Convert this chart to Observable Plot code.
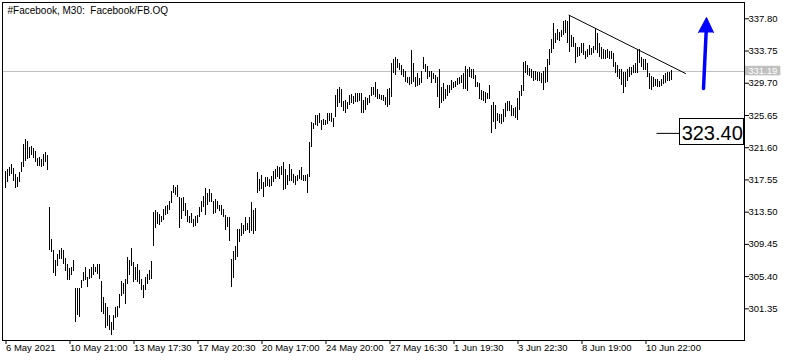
<!DOCTYPE html>
<html><head><meta charset="utf-8">
<script src="https://cdn.jsdelivr.net/npm/d3@7"></script>
<script src="https://cdn.jsdelivr.net/npm/@observablehq/plot@0.6"></script>
<style>body{margin:0;background:#fff} svg{display:block}</style>
</head><body><div id="chart"></div>
<script>
const title = "#Facebook, M30:  Facebook/FB.OQ";
const high = [
318.61,318.82,319.11,319.53,319.03,318.27,317.86,318.52,319.70,321.97,
322.63,322.38,321.63,321.79,321.46,321.12,320.21,320.37,320.12,320.78,
320.96,320.62,314.12,310.06,308.68,307.39,308.22,308.64,308.90,308.72,
307.64,306.96,306.46,306.54,307.39,303.94,303.94,303.87,304.87,305.88,
306.54,305.29,306.29,306.54,306.96,306.54,306.96,306.96,304.78,302.77,
302.02,301.52,300.51,299.67,300.51,301.52,301.60,303.11,304.78,304.53,
305.04,307.80,307.46,308.90,307.13,306.54,306.88,306.20,305.04,304.28,
305.29,305.70,306.13,307.30,313.42,313.67,313.42,313.17,312.99,313.83,
314.17,314.34,314.84,316.13,316.81,316.56,316.81,315.38,315.22,315.38,
314.63,313.71,312.96,313.29,312.62,312.96,313.04,314.12,314.88,315.47,
316.47,315.81,316.31,315.88,314.88,315.05,314.88,314.30,314.30,313.87,
313.04,312.79,312.79,307.59,308.52,309.18,311.36,311.28,312.04,311.79,
312.79,312.11,312.87,314.71,313.71,313.96,318.48,317.57,318.15,317.23,
317.89,317.82,317.64,317.98,318.65,318.90,319.24,319.07,319.24,319.74,
318.82,318.15,319.49,318.82,318.23,317.98,318.07,318.74,319.07,318.15,
318.07,318.23,322.26,324.77,324.68,325.69,325.69,325.86,325.02,325.11,
325.02,325.86,325.94,325.86,325.27,328.13,328.96,329.21,328.96,327.45,
327.53,327.28,328.13,328.29,328.04,328.38,328.38,328.45,328.38,327.53,
327.87,327.78,328.20,329.21,329.21,329.80,328.88,328.29,328.20,328.20,
327.95,328.88,329.04,332.15,332.65,332.90,332.65,332.22,331.97,331.47,
331.22,330.39,330.39,333.82,332.22,330.46,330.89,330.30,331.22,332.98,
332.06,331.81,331.22,331.14,330.97,330.72,330.46,331.39,329.21,329.63,
328.88,329.38,329.46,330.05,329.80,329.96,330.30,330.46,330.72,330.89,
331.81,331.39,331.72,331.47,331.39,330.72,329.80,329.71,328.79,328.71,
328.54,328.45,329.46,326.87,327.28,326.94,325.94,325.78,325.78,326.44,
327.12,327.37,327.37,326.91,326.53,326.65,327.78,328.66,329.42,332.31,
332.40,331.90,331.56,331.39,331.22,331.14,331.06,331.06,330.89,331.14,
331.72,332.73,333.98,335.16,337.18,335.92,336.42,336.08,336.33,337.42,
337.59,337.42,338.26,335.74,335.49,334.74,334.23,334.16,334.74,334.66,
333.73,333.91,334.48,334.07,334.32,336.58,335.96,334.66,334.16,333.91,
333.82,333.91,333.73,333.66,333.40,332.31,331.97,331.39,331.47,331.06,
331.06,331.47,331.72,331.72,331.97,332.15,333.82,333.91,332.98,332.73,
332.73,332.15,330.89,330.55,330.46,330.14,330.21,329.96,330.14,330.72,
330.97,331.06,331.06,331.30];
const low = [
316.51,317.19,317.94,318.20,317.35,316.51,316.56,317.27,318.45,319.11,
319.87,320.12,320.28,320.62,320.28,319.78,319.20,319.28,319.11,319.28,
319.70,318.70,308.68,308.39,305.75,305.38,306.71,307.55,307.55,306.88,
306.04,304.87,304.87,305.54,306.04,299.67,300.51,300.26,303.94,304.78,
304.87,304.07,305.04,305.20,305.54,305.88,305.70,305.04,300.93,300.67,
298.91,299.17,298.66,298.00,298.66,300.10,300.26,301.35,302.86,303.11,
301.86,304.37,305.54,306.71,304.70,304.87,304.70,304.37,303.62,302.69,
303.69,304.45,304.87,305.04,309.22,311.48,311.98,311.82,312.24,312.41,
313.08,313.24,313.67,314.63,315.81,315.56,315.38,311.45,312.54,313.55,
312.96,312.20,312.04,312.11,311.61,311.70,312.11,312.79,313.46,314.05,
313.04,314.38,314.71,314.71,313.21,313.29,313.80,313.55,313.04,312.79,
311.20,311.61,309.85,304.07,305.16,307.42,307.76,309.69,310.44,310.69,
311.11,311.20,310.78,311.03,310.69,311.03,315.81,316.06,316.39,315.30,
316.64,316.72,316.64,316.72,317.23,317.64,317.82,317.64,318.15,316.22,
316.39,316.89,317.39,317.32,317.06,316.89,317.32,317.64,317.48,317.39,
317.39,315.81,317.89,321.66,323.93,324.43,324.27,324.61,323.76,324.36,
324.43,324.52,324.93,324.77,324.18,325.36,326.69,327.12,326.69,326.11,
325.94,326.37,326.87,327.12,327.03,327.28,327.28,327.37,325.94,325.94,
326.28,326.87,327.12,328.04,328.13,327.87,327.62,327.62,327.53,327.37,
326.87,326.69,326.87,327.95,330.89,330.64,331.56,331.30,330.72,330.39,
329.80,329.63,329.46,329.55,329.80,329.21,329.30,329.46,329.63,331.39,
331.06,330.21,330.39,329.71,330.21,329.63,327.95,326.53,327.12,327.37,
327.62,328.04,328.38,328.79,329.04,329.21,329.38,329.55,329.71,328.96,
328.88,328.71,330.46,330.30,330.14,329.21,329.21,327.62,327.53,327.37,
327.12,327.70,327.70,323.42,324.77,323.85,324.86,324.68,324.52,324.77,
325.44,326.19,326.11,325.52,325.52,325.27,325.02,326.28,328.04,328.63,
330.97,330.64,330.55,330.30,329.96,330.05,329.88,329.88,329.71,328.79,
329.71,329.80,331.90,333.48,333.98,334.66,335.08,334.99,335.49,335.67,
335.92,334.74,333.57,334.16,334.23,332.22,332.98,333.07,333.40,333.23,
332.65,332.98,333.15,333.15,333.40,333.82,333.40,332.98,332.73,332.73,
332.73,332.81,332.73,332.65,331.72,330.89,330.46,330.14,329.38,328.38,
329.21,329.96,330.46,330.64,330.97,330.89,330.89,332.15,331.72,331.30,
331.30,330.46,328.96,328.79,329.21,329.30,329.13,329.21,329.30,329.55,
329.71,329.96,329.96,330.05];
const xTickBars = [0, 32, 64, 96, 128, 160, 192, 224, 256, 288, 320];
const xTickLabels = ["6 May 2021", "10 May 21:00", "13 May 17:30", "17 May 20:30", "20 May 17:00",
  "24 May 20:00", "27 May 16:30", "1 Jun 19:30", "3 Jun 22:30", "8 Jun 19:00", "10 Jun 22:00"];
const yTicks = [337.80, 333.75, 329.70, 325.65, 321.60, 317.55, 313.50, 309.45, 305.40, 301.35];
const lastPrice = 331.19;
const priceLevel = 323.40;
// trend line: bar index and price of its two ends
const trendBars = [282, 340.25];
const trendPrices = [338.26, 330.93];
// blue arrow (bar index / price)
const arrowShaftBars = [349.25, 350.6];
const arrowShaftPrices = [329.04, 336.3];
const arrowHeadBars = [346.75, 350.75, 354.25];
const arrowHeadPrices = [336.08, 337.97, 336.08];

const bars = high.map((h, i) => ({i, high: h, low: low[i]}));
const trend = trendBars.map((b, j) => ({x: b, y: trendPrices[j]}));
const shaft = arrowShaftBars.map((b, j) => ({x: b, y: arrowShaftPrices[j]}));
const head = arrowHeadBars.map((b, j) => ({x: b, y: arrowHeadPrices[j]}));

const chart = Plot.plot({
  width: 791,
  height: 361,
  marginLeft: 2,
  marginRight: 47,
  marginTop: 2,
  marginBottom: 21,
  style: {fontFamily: "'Liberation Sans', Arial, sans-serif", fontSize: "9.5px", background: "white", color: "black"},
  x: {domain: [-1.25, 369.75]},
  y: {domain: [297.37, 339.85]},
  marks: [
    Plot.ruleY([lastPrice], {stroke: "#c0c0c0", shapeRendering: "crispEdges"}),
    Plot.ruleX(bars, {x: "i", y1: "low", y2: "high", stroke: "black", strokeWidth: 1, shapeRendering: "crispEdges"}),
    Plot.line(trend, {x: "x", y: "y", stroke: "black", strokeWidth: 1}),
    Plot.line(shaft, {x: "x", y: "y", stroke: "#0000ff", strokeWidth: 3.5}),
    Plot.line(head, {x: "x", y: "y", stroke: "#0000ff", fill: "#0000ff", strokeWidth: 1}),
    Plot.link([priceLevel], {x1: () => 325.75, x2: () => 337.25, y1: d => d, y2: d => d, stroke: "black"}),
    Plot.rect([priceLevel], {x1: () => 337.25, x2: () => 369.6, y1: d => d + 1.75, y2: d => d - 1.43, fill: "white", stroke: "black", shapeRendering: "crispEdges"}),
    Plot.text([priceLevel], {x: () => 368.9, y: d => d, text: d => d.toFixed(2), textAnchor: "end", fontSize: 20, fill: "black"}),
    Plot.frame({stroke: "black", shapeRendering: "crispEdges"}),
    Plot.axisY(yTicks, {anchor: "right", tickSize: 4, tickPadding: 0, tickFormat: d => d.toFixed(2), stroke: "black"}),
    Plot.rect([lastPrice], {x1: () => 370.25, x2: () => 387.9, y1: d => d + 0.64, y2: d => d - 0.56, fill: "#c0c0c0"}),
    Plot.text([lastPrice], {x: () => 371.6, y: d => d, text: d => d.toFixed(2), textAnchor: "start", fill: "white"}),
    Plot.axisX(xTickBars, {anchor: "bottom", tickSize: 4, tickPadding: 0, textAnchor: "start", dx: 1, stroke: "black", tickFormat: d => xTickLabels[xTickBars.indexOf(d)]}),
    Plot.text([title], {frameAnchor: "top-left", dx: 5, dy: 4, fontSize: 10, fill: "black", lineAnchor: "top"})
  ]
});
document.getElementById("chart").appendChild(chart);
</script>
</body></html>
